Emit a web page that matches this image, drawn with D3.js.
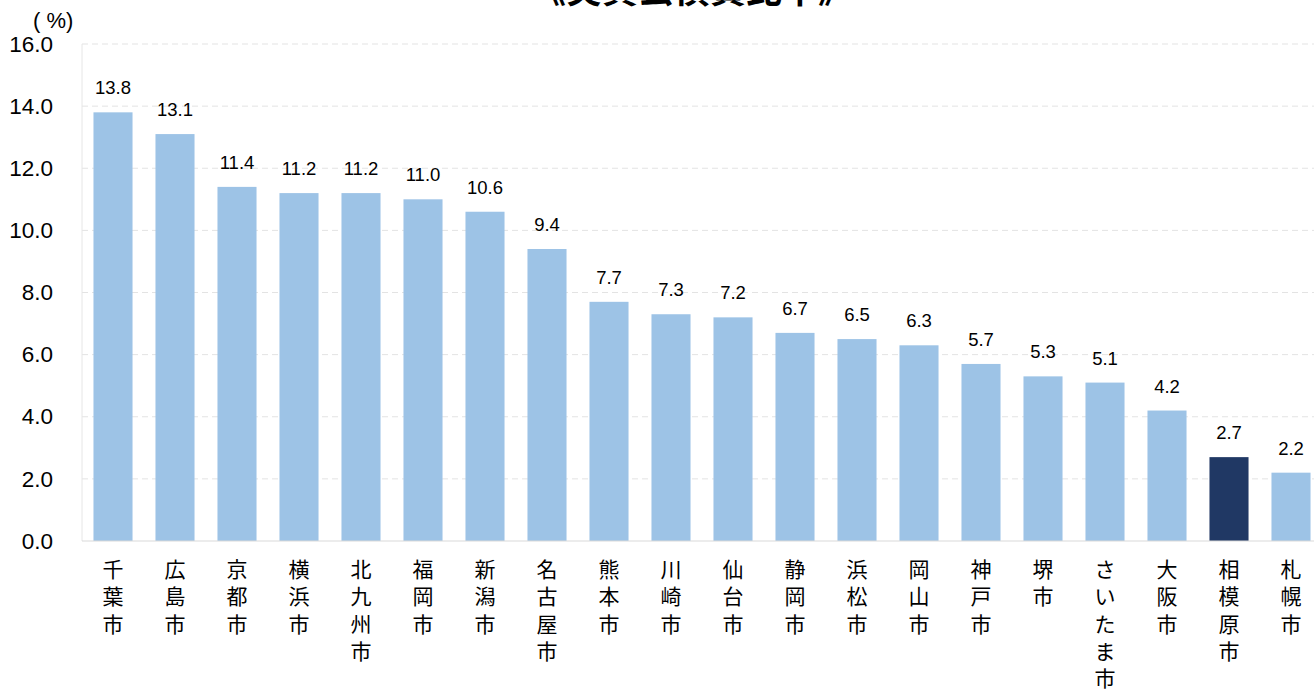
<!DOCTYPE html>
<html>
<head>
<meta charset="utf-8">
<script src="https://cdn.jsdelivr.net/npm/d3@7"></script>
<style>
  body { margin: 0; background: #fff; }
  svg text { font-family: "Liberation Sans", Arial, "Noto Sans CJK JP", sans-serif; }
</style>
</head>
<body>
<svg id="chart" width="1314" height="691"></svg>
<script>
// chart data
var cities = ["千葉市", "広島市", "京都市", "横浜市", "北九州市", "福岡市", "新潟市", "名古屋市", "熊本市", "川崎市",
    "仙台市", "静岡市", "浜松市", "岡山市", "神戸市", "堺市", "さいたま市", "大阪市", "相模原市", "札幌市"];
var ratios = [13.8, 13.1, 11.4, 11.2, 11.2, 11.0, 10.6, 9.4, 7.7, 7.3, 7.2, 6.7, 6.5, 6.3, 5.7, 5.3, 5.1, 4.2, 2.7, 2.2];
var yTicks = [0, 2, 4, 6, 8, 10, 12, 14, 16];
var highlightCity = "相模原市";

var svg = d3.select("#chart");
var margin = {top: 44, left: 82, bottom: 150};
var width = 1240, height = 691 - margin.top - margin.bottom;

var g = svg.append("g").attr("transform", "translate(" + margin.left + "," + margin.top + ")");

var x = d3.scaleBand().domain(cities).range([0, width]).paddingInner(0.37).paddingOuter(0.185);
var y = d3.scaleLinear().domain([0, 16]).range([height, 0]);

// grid lines
g.selectAll(".grid").data(yTicks.filter(function(d) { return d > 0; }))
    .enter().append("line")
    .attr("x1", 0).attr("x2", width)
    .attr("y1", function(d) { return y(d); }).attr("y2", function(d) { return y(d); })
    .attr("stroke", "#e3e3e3").attr("stroke-dasharray", "6,4");

// plot frame lines
g.append("line").attr("x1", 0).attr("x2", 0).attr("y1", 0).attr("y2", height).attr("stroke", "#e6e6e6");

var yAxis = g.append("g")
    .call(d3.axisLeft(y).tickValues(yTicks).tickFormat(d3.format(".1f")).tickSize(0).tickPadding(29));
yAxis.select(".domain").remove();
yAxis.selectAll("text").attr("font-size", 22.5).attr("fill", "#000");

g.selectAll(".bar").data(cities)
    .enter().append("rect")
    .attr("x", function(d) { return x(d); })
    .attr("y", function(d, i) { return y(ratios[i]); })
    .attr("width", x.bandwidth())
    .attr("height", function(d, i) { return height - y(ratios[i]); })
    .attr("fill", function(d) { return d == highlightCity ? "#203864" : "#9dc3e6"; });

g.append("line").attr("x1", 0).attr("x2", width).attr("y1", height).attr("y2", height).attr("stroke", "#d9d9d9");

// value labels
g.selectAll(".val").data(cities)
    .enter().append("text")
    .attr("x", function(d) { return x(d) + x.bandwidth() / 2; })
    .attr("y", function(d, i) { return y(ratios[i]) - 18; })
    .attr("text-anchor", "middle")
    .attr("font-size", 18.5)
    .text(function(d, i) { return ratios[i].toFixed(1); });

// vertical category labels
var labels = g.selectAll(".cat").data(cities)
    .enter().append("text")
    .attr("text-anchor", "middle")
    .attr("font-size", 21)
    .attr("font-family", "'Noto Sans CJK JP', sans-serif");
labels.each(function(d) {
    var t = d3.select(this);
    var cx = x(d) + x.bandwidth() / 2;
    d.split("").forEach(function(ch, k) {
        t.append("tspan").attr("x", cx).attr("y", height + 36 + k * 27.3).text(ch);
    });
});

svg.append("text").attr("x", 33).attr("y", 28).attr("font-size", 22).text("( %)");

svg.append("text").attr("x", 692).attr("y", 3).attr("text-anchor", "middle")
    .attr("font-size", 36).attr("font-weight", "bold")
    .attr("font-family", "'Noto Sans CJK JP', sans-serif")
    .text("《実質公債費比率》");
</script>
</body>
</html>
